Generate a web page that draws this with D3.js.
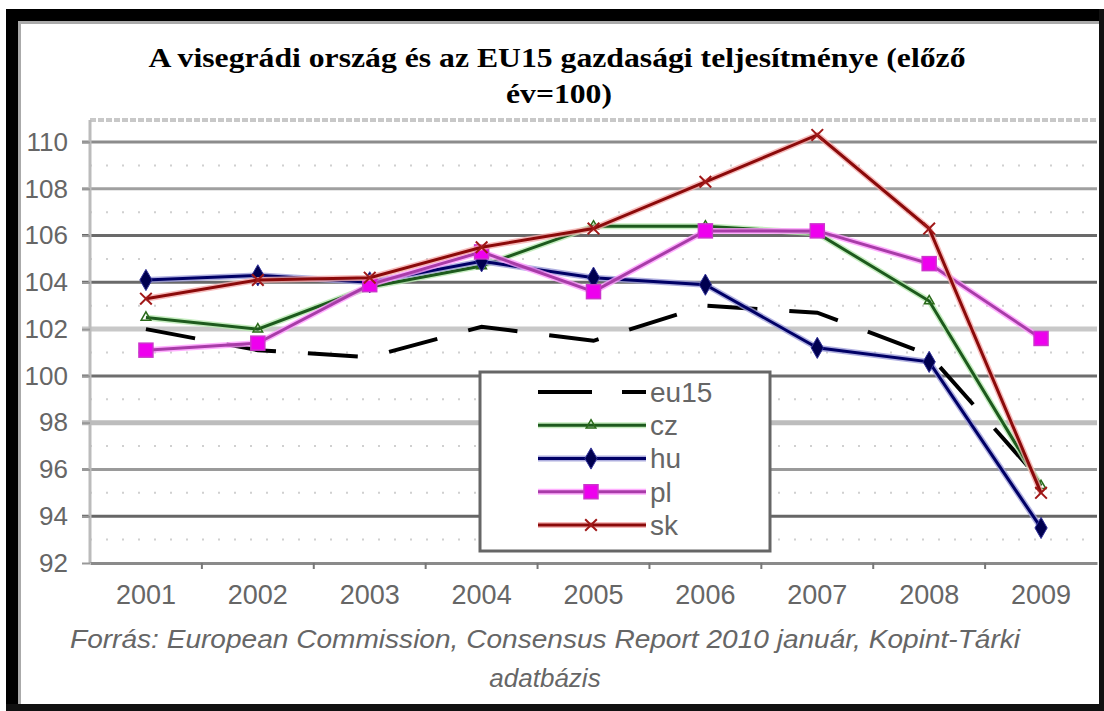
<!DOCTYPE html>
<html>
<head>
<meta charset="utf-8">
<script src="https://cdn.jsdelivr.net/npm/d3@7"></script>
<style>
  html, body { margin: 0; padding: 0; background: #fff; }
  svg { display: block; }
</style>
</head>
<body>
<div id="chart"></div>
<script>
// data
var years = ["2001","2002","2003","2004","2005","2006","2007","2008","2009"]
var eu15 = [102.0, 101.1, 100.8, 102.1, 101.5, 103.0, 102.7, 100.9, 95.5]
var cz   = [102.5, 102.0, 103.8, 104.7, 106.4, 106.4, 106.1, 103.2, 95.3]
var hu   = [104.1, 104.3, 104.0, 104.9, 104.2, 103.9, 101.2, 100.6, 93.5]
var pl   = [101.1, 101.4, 103.9, 105.3, 103.6, 106.2, 106.2, 104.8, 101.6]
var sk   = [103.3, 104.1, 104.2, 105.5, 106.3, 108.3, 110.3, 106.3, 95.0]
var yTicks = [92, 94, 96, 98, 100, 102, 104, 106, 108, 110]
var seriesNames = ["eu15", "cz", "hu", "pl", "sk"]

var width = 1104, height = 711
var svg = d3.select("#chart").append("svg")
	.attr("width", width)
	.attr("height", height)

// frame
svg.append("rect").attr("x", 0).attr("y", 0).attr("width", width).attr("height", height).attr("fill", "#fff")
svg.append("rect").attr("x", 6).attr("y", 9).attr("width", 12).attr("height", 702).attr("fill", "#000")
svg.append("rect").attr("x", 6).attr("y", 9).attr("width", 1098).attr("height", 12).attr("fill", "#000")
svg.append("rect").attr("x", 6).attr("y", 704).attr("width", 1098).attr("height", 7).attr("fill", "#111")
svg.append("rect").attr("x", 1099).attr("y", 9).attr("width", 5).attr("height", 702).attr("fill", "#111")
svg.append("rect").attr("x", 18).attr("y", 21).attr("width", 3).attr("height", 683).attr("fill", "#aaa")
svg.append("rect").attr("x", 18).attr("y", 21).attr("width", 1081).attr("height", 3).attr("fill", "#aaa")

var margin = {left: 90, right: 1097, top: 120, bottom: 563}

var x = d3.scaleBand().domain(years).range([margin.left, margin.right]).padding(0)
var y = d3.scaleLinear().domain([92, 110]).range([563, 142])
var cx = function(d, i) { return x(years[i]) + x.bandwidth() / 2 }

// title
var title = svg.append("g").attr("font-family", "'Liberation Serif', 'Times New Roman', serif")
	.attr("font-weight", "bold").attr("fill", "#000").attr("text-anchor", "middle")
title.append("text").attr("x", 557).attr("y", 67).attr("font-size", 28)
	.attr("textLength", 817).attr("lengthAdjust", "spacingAndGlyphs")
	.text("A visegrádi ország és az EU15 gazdasági teljesítménye (előző")
title.append("text").attr("x", 559).attr("y", 103).attr("font-size", 28)
	.attr("textLength", 106).attr("lengthAdjust", "spacingAndGlyphs")
	.text("év=100)")

// plot area border (top) and faint dotted texture
var grid = svg.append("g")
grid.append("line").attr("x1", margin.left).attr("x2", margin.right)
	.attr("y1", margin.top).attr("y2", margin.top)
	.attr("stroke", "#c8c8c8").attr("stroke-width", 4).attr("stroke-dasharray", "6,2")

var minor = d3.range(93, 111, 2)
grid.selectAll(".minor").data(minor).enter().append("line")
	.attr("class", "minor")
	.attr("x1", margin.left).attr("x2", margin.right)
	.attr("y1", d => y(d)).attr("y2", d => y(d))
	.attr("stroke", "#d0d0d0").attr("stroke-width", 2).attr("stroke-dasharray", "2,14")

// major gridlines, styles mimic the blurry original
var gridStyle = {
	110: ["#8c8c8c", 3], 108: ["#a0a0a0", 3], 106: ["#6a6a6a", 3], 104: ["#6a6a6a", 3],
	102: ["#c8c8c8", 5], 100: ["#6e6e6e", 3], 98: ["#bdbdbd", 5], 96: ["#9a9a9a", 3], 94: ["#666", 3]
}
grid.selectAll(".major").data(yTicks.filter(d => d > 92)).enter().append("line")
	.attr("class", "major")
	.attr("x1", margin.left - 8).attr("x2", margin.right)
	.attr("y1", d => y(d)).attr("y2", d => y(d))
	.attr("stroke", d => gridStyle[d][0]).attr("stroke-width", d => gridStyle[d][1])

// axes
var yAxis = svg.append("g").attr("transform", "translate(" + margin.left + ",0)")
	.call(d3.axisLeft(y).tickValues(yTicks).tickSize(8).tickPadding(14))
yAxis.select(".domain").attr("stroke", "#bbb").attr("stroke-width", 3)
	.attr("d", "M0," + margin.top + "V" + margin.bottom)
yAxis.selectAll(".tick line").attr("stroke", "#999").attr("stroke-width", 2)
yAxis.selectAll("text").attr("font-family", "'Liberation Sans', Arial, sans-serif")
	.attr("font-size", 26).attr("fill", "#666")

var xAxis = svg.append("g").attr("transform", "translate(0," + margin.bottom + ")")
	.call(d3.axisBottom(x).tickSize(0).tickPadding(22))
xAxis.select(".domain").attr("stroke", "#8a8a8a").attr("stroke-width", 3)
xAxis.selectAll("text").attr("font-family", "'Liberation Sans', Arial, sans-serif")
	.attr("font-size", 27).attr("fill", "#666")
xAxis.selectAll(".bnd").data(years.slice(1)).enter().append("line")
	.attr("class", "bnd")
	.attr("x1", d => x(d)).attr("x2", d => x(d))
	.attr("y1", 0).attr("y2", 6).attr("stroke", "#777").attr("stroke-width", 2)

// series
var series = [
	{name: "eu15", values: eu15, color: "#000", halo: null, width: 4, dash: "50,32", marker: null},
	{name: "cz", values: cz, color: "#1d5a1d", halo: "#b8e8b0", width: 3, dash: null, marker: "triangle"},
	{name: "hu", values: hu, color: "#000066", halo: "#9c9cd8", width: 3, dash: null, marker: "diamond"},
	{name: "pl", values: pl, color: "#a83ca8", halo: "#ff9cff", width: 3, dash: null, marker: "square"},
	{name: "sk", values: sk, color: "#8b0a0a", halo: "#f4aaaa", width: 3, dash: null, marker: "cross"}
]

var line = d3.line().x(cx).y(d => y(d))

var markerColors = {cz: "#2a6a1a", hu: "#000050", pl: "#ee00ee", sk: "#a01818"}

function drawMarker(g, type, name, px, py) {
	var c = markerColors[name]
	if (type == "triangle") {
		g.append("path").attr("d", d3.symbol().type(d3.symbolTriangle).size(40)())
			.attr("transform", "translate(" + px + "," + py + ")")
			.attr("fill", "none").attr("stroke", c).attr("stroke-width", 1.5)
	} else if (type == "diamond") {
		g.append("path").attr("d", d3.symbol().type(d3.symbolDiamond).size(130)())
			.attr("transform", "translate(" + px + "," + py + ")")
			.attr("fill", c).attr("stroke", "#333399").attr("stroke-width", 1)
	} else if (type == "square") {
		g.append("rect").attr("x", px - 7).attr("y", py - 7).attr("width", 14).attr("height", 14)
			.attr("fill", c).attr("stroke", "#cc33cc").attr("stroke-width", 1.5)
	} else if (type == "cross") {
		g.append("path").attr("d", d3.symbol().type(d3.symbolX).size(90)())
			.attr("transform", "translate(" + px + "," + py + ")")
			.attr("fill", "none").attr("stroke", c).attr("stroke-width", 2)
	}
}

var plot = svg.append("g")
series.forEach(function(s) {
	var g = plot.append("g").attr("class", "series-" + s.name)
	if (s.halo) {
		g.append("path").datum(s.values).attr("d", line)
			.attr("fill", "none").attr("stroke", s.halo).attr("stroke-width", 6).attr("opacity", 0.8)
	}
	g.append("path").datum(s.values).attr("d", line)
		.attr("fill", "none").attr("stroke", s.color).attr("stroke-width", s.width)
		.attr("stroke-dasharray", s.dash)
	if (s.marker) {
		s.values.forEach(function(v, i) { drawMarker(g, s.marker, s.name, cx(v, i), y(v)) })
	}
})

// legend
var legend = svg.append("g")
legend.append("rect").attr("x", 480).attr("y", 372).attr("width", 290).attr("height", 179)
	.attr("fill", "#fff").attr("stroke", "#666").attr("stroke-width", 3)
var legendY = d3.scalePoint().domain(seriesNames).range([392, 525])
series.forEach(function(s) {
	var ly = legendY(s.name)
	if (s.halo) {
		legend.append("line").attr("x1", 538).attr("x2", 646).attr("y1", ly).attr("y2", ly)
			.attr("stroke", s.halo).attr("stroke-width", 6).attr("opacity", 0.8)
	}
	legend.append("line").attr("x1", 538).attr("x2", 646).attr("y1", ly).attr("y2", ly)
		.attr("stroke", s.color).attr("stroke-width", s.width)
		.attr("stroke-dasharray", s.dash ? "54,30" : null)
	if (s.marker) drawMarker(legend, s.marker, s.name, 591, ly)
	legend.append("text").attr("x", 650).attr("y", ly).attr("dy", "0.35em")
		.attr("font-family", "'Liberation Sans', Arial, sans-serif").attr("font-size", 28)
		.attr("fill", "#666").text(s.name)
})

// source note
var note = svg.append("g").attr("font-family", "'Liberation Sans', Arial, sans-serif")
	.attr("font-style", "italic").attr("font-size", 26).attr("fill", "#666")
note.append("text").attr("x", 70).attr("y", 648)
	.attr("textLength", 950).attr("lengthAdjust", "spacingAndGlyphs")
	.text("Forrás: European Commission, Consensus Report 2010 január, Kopint-Tárki")
note.append("text").attr("x", 545).attr("y", 687).attr("text-anchor", "middle")
	.text("adatbázis")
</script>
</body>
</html>
